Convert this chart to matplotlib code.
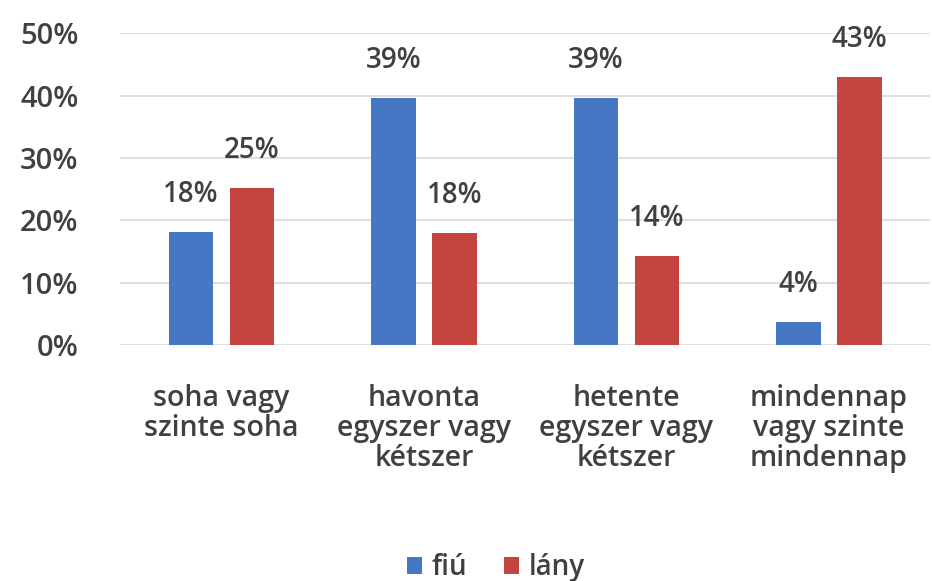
import matplotlib
matplotlib.use("Agg")
import matplotlib.pyplot as plt
import numpy as np

# adatok a diagramról
kategoriak = ["soha vagy\nszinte soha",
              "havonta\negyszer vagy\nkétszer",
              "hetente\negyszer vagy\nkétszer",
              "mindennap\nvagy szinte\nmindennap"]
sorozatok = ["fiú", "lány"]
fiu = [18.1, 39.6, 39.6, 3.7]
lany = [25.2, 18.0, 14.3, 43.0]
fiu_cimke = ["18%", "39%", "39%", "4%"]
lany_cimke = ["25%", "18%", "14%", "43%"]
y_tickek = [0, 10, 20, 30, 40, 50]

kek = "#4677C4"
piros = "#C4443F"
szoveg = "#404040"

plt.rcParams["font.family"] = ["Open Sans", "DejaVu Sans"]
plt.rcParams["font.weight"] = "semibold"
meret = 20

fig = plt.figure(figsize=(9.32, 5.81), dpi=100)
ax = fig.add_axes([0.129, 0.406, 0.869, 0.537])

x = np.arange(len(kategoriak))
w = 0.22
b1 = ax.bar(x - 0.15, fiu, w, color=kek, label=sorozatok[0], zorder=3)
b2 = ax.bar(x + 0.15, lany, w, color=piros, label=sorozatok[1], zorder=3)

for bars, cimkek in ((b1, fiu_cimke), (b2, lany_cimke)):
    for r, c in zip(bars, cimkek):
        ax.annotate(c, (r.get_x() + r.get_width() / 2, r.get_height()),
                    xytext=(0, 27), textcoords="offset points",
                    ha="center", va="center", fontsize=meret, color=szoveg)

ax.set_ylim(0, 50)
ax.set_xlim(-0.5, 3.5)
ax.set_yticks(y_tickek)
ax.set_yticklabels([f"{t}%" for t in y_tickek], fontsize=meret + 1, color=szoveg)
ax.set_xticks(x)
ax.set_xticklabels(kategoriak, fontsize=meret + 0.5, color=szoveg, linespacing=1.05)
ax.tick_params(axis="both", length=0)
ax.tick_params(axis="y", pad=30)
ax.tick_params(axis="x", pad=28)
ax.grid(axis="y", color="#D9D9D9", linewidth=1.2, zorder=0)
for s in ax.spines.values():
    s.set_visible(False)

fig.legend(loc="lower center", bbox_to_anchor=(0.532, -0.045), ncol=2, frameon=False,
           fontsize=meret, handlelength=0.55, handleheight=0.55, handletextpad=0.35,
           columnspacing=1.3, labelcolor=szoveg)

fig.savefig("out.png", dpi=100, facecolor="white")
